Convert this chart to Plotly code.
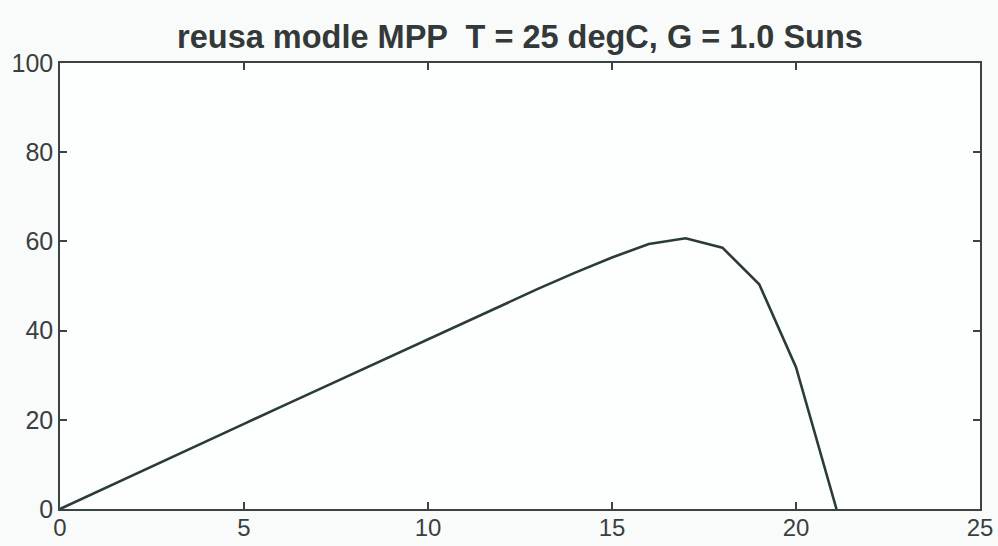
import plotly.graph_objects as go

voltage = [0, 1, 2, 3, 4, 5, 6, 7, 8, 9, 10, 11, 12, 13, 14, 15, 16, 17, 18, 19, 20, 21.1]
power = [0, 3.85, 7.7, 11.5, 15.3, 19.1, 22.9, 26.7, 30.5, 34.3, 38.1, 41.9, 45.7, 49.4, 53.0, 56.4, 59.4, 60.7, 58.6, 50.4, 31.8, 0]

x_ticks = [0, 5, 10, 15, 20, 25]
y_ticks = [0, 20, 40, 60, 80, 100]

fig = go.Figure()
fig.add_trace(go.Scatter(x=voltage, y=power, mode="lines",
                         line=dict(color="#2b3b3b", width=2.6), showlegend=False))

axis_common = dict(showline=True, linecolor="#3a4444", linewidth=1.5, mirror="ticks",
                   ticks="inside", ticklen=7, tickwidth=1.5, tickcolor="#3a4444",
                   showgrid=False, zeroline=False, automargin=False)

fig.update_xaxes(range=[0, 25], tickvals=x_ticks, ticklabelstandoff=-4,
                 tickfont=dict(family="Liberation Sans, Arial", size=24, color="#3a3f3f"),
                 **axis_common)
fig.update_yaxes(range=[0, 100], tickvals=y_ticks,
                 tickfont=dict(family="Liberation Sans, Arial", size=25, color="#3a3f3f"),
                 **axis_common)

fig.update_layout(
    width=998, height=546,
    margin=dict(l=60, r=18, t=63, b=37),
    paper_bgcolor="#f9fbfb", plot_bgcolor="#fdfefe",
    title=dict(text="<b>reusa modle MPP  T = 25 degC, G = 1.0 Suns</b>",
               x=(60 + 980) / 2 / 998, xanchor="center", y=1 - 37 / 546, yanchor="middle",
               font=dict(family="Liberation Sans, Arial", size=32.5, color="#333838")),
)

fig.write_html("out.html")
